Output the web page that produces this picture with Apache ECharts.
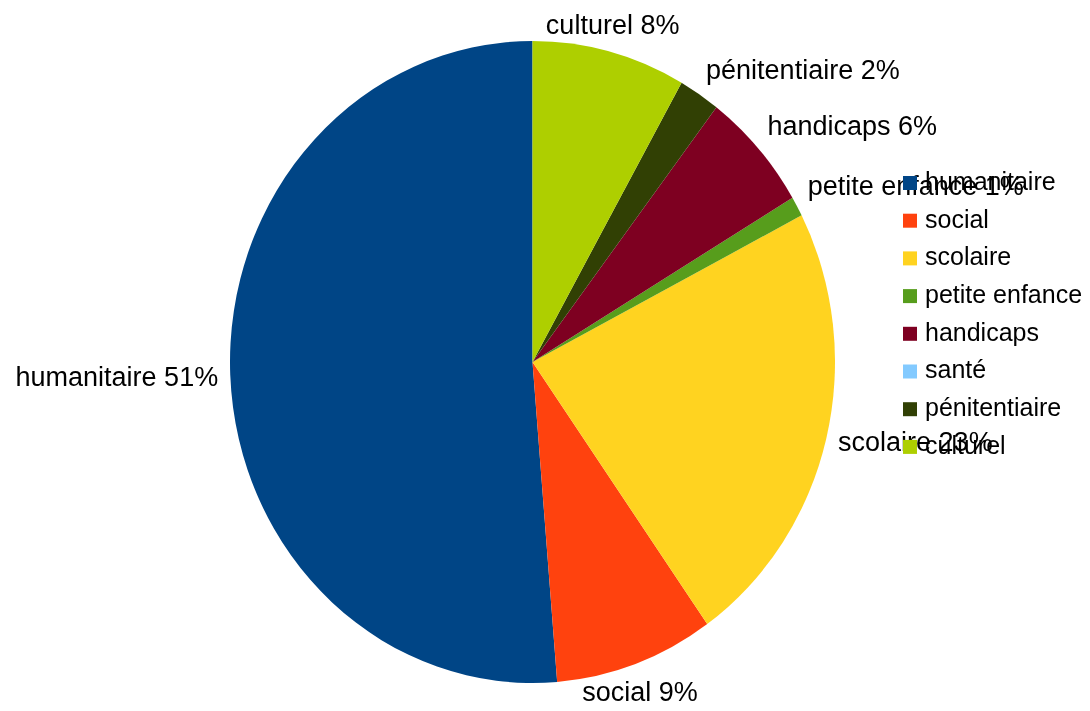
<!DOCTYPE html>
<html>
<head>
<meta charset="utf-8">
<script src="https://cdn.jsdelivr.net/npm/echarts@6/dist/echarts.min.js"></script>
<style>
html,body{margin:0;padding:0;background:#fff;}
#wrap{position:relative;width:1090px;height:711px;overflow:hidden;background:#fff;}
#pie,#labels{position:absolute;left:0;top:0;width:1090px;height:711px;}
</style>
</head>
<body>
<div id="wrap"><div id="pie"></div><div id="labels"></div></div>
<script>
const categories = ['humanitaire', 'social', 'scolaire', 'petite enfance', 'handicaps', 'santé', 'pénitentiaire', 'culturel'];
const shares = [51.3, 8.5, 22.75, 1.0, 6.05, 0, 2.2, 8.2];
const colors = ['#004586', '#ff420e', '#ffd320', '#579d1c', '#7e0021', '#83caff', '#314004', '#aecf00'];

const CX = 532.5, CY = 362, RX = 302.5, RY = 321;
const FONT = '"Liberation Sans", Arial, Helvetica, sans-serif';

const pieEl = document.getElementById('pie');
pieEl.style.transformOrigin = CX + 'px ' + CY + 'px';
pieEl.style.transform = 'scaleY(' + (RY / RX) + ')';

const total = shares.reduce((a, b) => a + b, 0);
function midAngleCCW(i) {
  let before = 0;
  for (let k = 0; k < i; k++) before += shares[k];
  return (before + shares[i] / 2) / total * 360;
}

// Layer 1: the (elliptically stretched) pie
const pieChart = echarts.init(pieEl, null, {renderer: 'svg'});
pieChart.setOption({
  backgroundColor: 'transparent',
  animation: false,
  series: [{
    type: 'pie',
    center: [CX, CY],
    radius: RX,
    startAngle: 90,
    clockwise: false,
    silent: true,
    label: {show: false},
    labelLine: {show: false},
    itemStyle: {borderWidth: 0, borderRadius: 0},
    emphasis: {disabled: true},
    data: categories.map((n, i) => ({name: n, value: shares[i], itemStyle: {color: colors[i]}}))
  }]
});

// Layer 2: labels and legend (unstretched)
const labChart = echarts.init(document.getElementById('labels'));
labChart.setOption({
  backgroundColor: 'transparent',
  animation: false,
  legend: {
    orient: 'vertical',
    left: 903,
    top: 170.5,
    padding: 0,
    itemWidth: 14,
    itemHeight: 14,
    itemGap: 12.7,
    icon: 'rect',
    selectedMode: false,
    textStyle: {fontFamily: FONT, fontSize: 25, lineHeight: 25, color: '#000', padding: [0, 0, 0, 3]},
    data: categories.map((n, i) => ({name: n, itemStyle: {color: colors[i], opacity: 1, borderWidth: 0}}))
  },
  series: [{
    type: 'pie',
    center: [CX, CY],
    radius: RX,
    startAngle: 90,
    clockwise: false,
    silent: true,
    avoidLabelOverlap: false,
    percentPrecision: 0,
    emphasis: {disabled: true},
    itemStyle: {borderWidth: 0},
    label: {
      show: true,
      position: 'outside',
      formatter: '{b} {d}%',
      fontFamily: FONT,
      fontSize: 27,
      lineHeight: 30,
      color: '#000'
    },
    labelLine: {show: false, length: 0, length2: 0},
    labelLayout: function (p) {
      const m = (90 + midAngleCCW(p.dataIndex)) % 360;
      const rad = m * Math.PI / 180;
      const k = 1.04;
      const x = CX + RX * k * Math.cos(rad);
      const y = CY - RY * k * Math.sin(rad) + 2.5;
      let align, va;
      if (m <= 22.5 || m >= 337.5) { align = 'left'; va = 'middle'; }
      else if (m < 67.5) { align = 'left'; va = 'bottom'; }
      else if (m < 112.5) { align = 'center'; va = 'bottom'; }
      else if (m <= 157.5) { align = 'right'; va = 'bottom'; }
      else if (m <= 202.5) { align = 'right'; va = 'middle'; }
      else if (m < 247.5) { align = 'right'; va = 'top'; }
      else if (m < 292.5) { align = 'center'; va = 'top'; }
      else { align = 'left'; va = 'top'; }
      return {x: x, y: y, align: align, verticalAlign: va};
    },
    data: categories.map((n, i) => ({
      name: n,
      value: shares[i],
      itemStyle: {color: 'rgba(0,0,0,0)'},
      label: {show: shares[i] > 0}
    }))
  }]
});
</script>
</body>
</html>
